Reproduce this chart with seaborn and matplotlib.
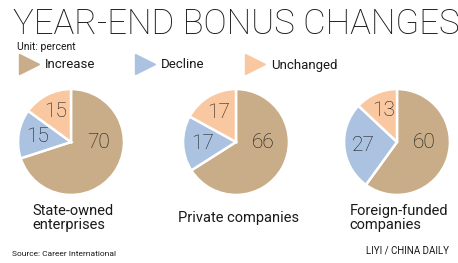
import matplotlib
matplotlib.use("Agg")
import matplotlib.pyplot as plt
from matplotlib.lines import Line2D
import seaborn as sns

# ---- data ----
categories = ["Increase", "Decline", "Unchanged"]
groups = ["State-owned\nenterprises", "Private companies", "Foreign-funded\ncompanies"]
state_owned = [70, 15, 15]
private = [66, 17, 17]
foreign = [60, 27, 13]
series = [state_owned, private, foreign]

title = "YEAR-END BONUS CHANGES"
unit_text = "Unit: percent"
source_text = "Source: Career International"
credit_text = "LIYI / CHINA DAILY"

sns.set_theme(style="white")
plt.rcParams["font.family"] = ["Roboto", "DejaVu Sans"]
colors = sns.color_palette(["#c9ac88", "#abc2e0", "#f9c8a0"])
txt = "#1a1a1a"

W, H = 458, 263
fig = plt.figure(figsize=(W / 100, H / 100), dpi=100)
fig.patch.set_facecolor("white")

def px(x, y):
    return x / W, 1 - y / H

# title and header
fig.text(*px(13, 24), title, fontsize=25, fontweight="light", color=txt,
         ha="left", va="center")
fig.text(*px(17, 47), unit_text, fontsize=7.5, color=txt, ha="left", va="center")

handles = [Line2D([], [], marker=">", linestyle="none", markersize=14,
                  markerfacecolor=c, markeredgecolor=c) for c in colors]
fig.legend(handles, categories, loc="center left", bbox_to_anchor=px(8, 65),
           ncol=3, frameon=False, handletextpad=0.5,
           columnspacing=3.1, handlelength=1.4, labelcolor=txt,
           prop=dict(size=9.5))

centers = [71, 236, 397]
R = 54
for cx, vals, name in zip(centers, series, groups):
    l, b = px(cx - R, 142 + R)
    ax = fig.add_axes([l, b, 2 * R / W, 2 * R / H])
    wedges, _, autotexts = ax.pie(
        vals, colors=colors, startangle=90, counterclock=False,
        autopct=lambda p: f"{p:.0f}", pctdistance=0.64,
        wedgeprops=dict(edgecolor="white", linewidth=1.8),
        textprops=dict(fontsize=15, color=txt, fontweight="light"))
    autotexts[0].set_position((0.52, 0.0))
    ax.set_xlim(-1.02, 1.02)
    ax.set_ylim(-1.02, 1.02)
    ax.set_aspect("equal")
    ax.axis("off")
    fig.text(*px(cx + 2, 218), name, fontsize=10.5, color=txt, ha="center",
             va="center", multialignment="left", linespacing=1.05)

fig.text(*px(12, 254), source_text, fontsize=6, color=txt, ha="left", va="center")
fig.text(*px(449, 251), credit_text, fontsize=7, color=txt, ha="right",
         va="center")

fig.savefig("out.png", dpi=100, facecolor="white")
